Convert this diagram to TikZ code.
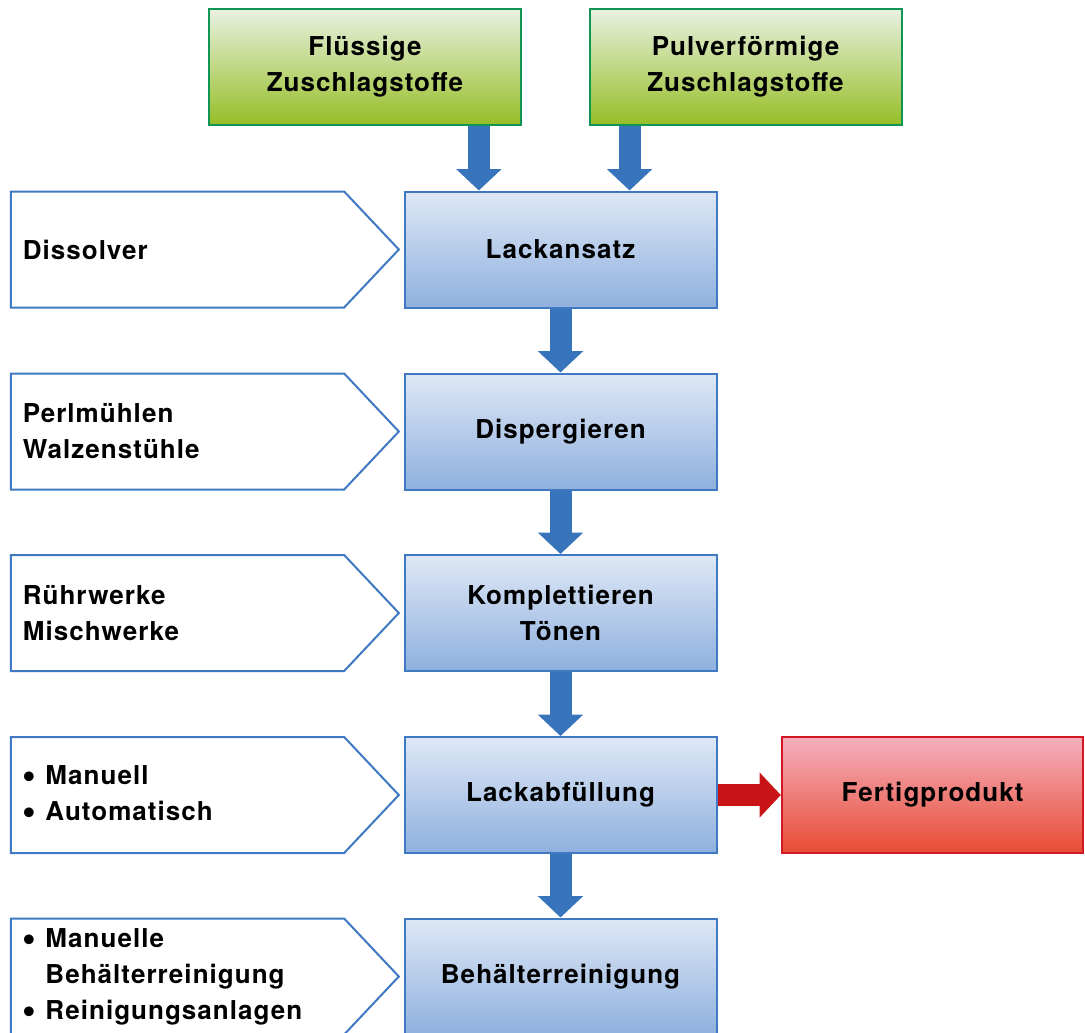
\documentclass[tikz,border=0pt]{standalone}
\usepackage{fontspec}
\setmainfont{TeX Gyre Heros}[LetterSpace=4]
\definecolor{FrameBlue}{RGB}{62, 121, 193}
\definecolor{ArrowBlue}{RGB}{56, 116, 188}
\definecolor{BoxTop}{RGB}{222, 232, 246}
\definecolor{BoxBottom}{RGB}{143, 176, 222}
\definecolor{LeafGreen}{RGB}{16, 150, 84}
\definecolor{GreenTop}{RGB}{233, 241, 226}
\definecolor{GreenBottom}{RGB}{150, 190, 38}
\definecolor{SignalRed}{RGB}{210, 25, 35}
\definecolor{RedTop}{RGB}{245, 175, 190}
\definecolor{RedBottom}{RGB}{232, 76, 52}
\definecolor{ArrowRed}{RGB}{200, 20, 22}
\usetikzlibrary{arrows.meta, positioning, calc}

\newcommand{\toolframe}[1]{%
  \draw[toolline] (#1.north west) -- (#1.north east) -- ([xshift=41pt]#1.east)
    -- (#1.south east) -- (#1.south west) -- cycle;}
\newcommand{\dotitem}{\makebox[17pt][l]{\raisebox{-0.17em}{\scalebox{1.5}{\textbullet}}}}

\begin{document}
\begin{tikzpicture}[x=0.75pt, y=-0.75pt,
    every node/.style={font=\bfseries\fontsize{19.5}{27}\selectfont},
    stepbox/.style={draw=FrameBlue, line width=1.5pt, top color=BoxTop, bottom color=BoxBottom,
        minimum width=234pt, minimum height=87pt, align=center},
    inputbox/.style={draw=LeafGreen, line width=1.5pt, top color=GreenTop, bottom color=GreenBottom,
        minimum width=234pt, minimum height=87pt, align=center},
    outputbox/.style={draw=SignalRed, line width=1.5pt, top color=RedTop, bottom color=RedBottom,
        minimum width=226pt, minimum height=87pt, align=center},
    tool/.style={minimum width=250pt, minimum height=87pt, text width=232pt, align=left,
        inner xsep=9pt, outer sep=0pt},
    toolline/.style={draw=FrameBlue, line width=1.5pt, fill=white},
    flow/.style={draw=ArrowBlue, line width=16.5pt, -{Triangle[width=33pt, length=16pt]}},
    outflow/.style={draw=ArrowRed, line width=17pt, -{Triangle[width=33pt, length=16pt]}}]
    \useasboundingbox (0,0) rectangle (1085,1032);

    % Zuschlagstoffe
    \node[inputbox] (fluessig) at (365,67) {Flüssige\\Zuschlagstoffe};
    \node[inputbox] (pulver) at (745.5,67) {Pulverförmige\\Zuschlagstoffe};

    % Prozessschritte
    \node[stepbox] (ansatz) at (560.5,249.5) {Lackansatz};
    \node[stepbox] (dispergieren) at (560.5,431.5) {Dispergieren};
    \node[stepbox] (komplett) at (560.5,613) {Komplettieren\\Tönen};
    \node[stepbox] (abfuellung) at (560.5,795) {Lackabfüllung};
    \node[stepbox] (reinigung) at (560.5,976.5) {Behälterreinigung};
    \node[outputbox] (fertig) at (932.5,795) {Fertigprodukt};

    % Anlagen
    \node[tool] (dissolver) at (177.5,249.5) {};
    \node[tool] (muehlen) at (177.5,431.5) {};
    \node[tool] (ruehrwerke) at (177.5,613) {};
    \node[tool] (abfueller) at (177.5,795) {};
    \node[tool] (reiniger) at (177.5,976.5) {};
    \toolframe{dissolver}
    \toolframe{muehlen}
    \toolframe{ruehrwerke}
    \toolframe{abfueller}
    \toolframe{reiniger}
    \node[tool] at (dissolver) {Dissolver};
    \node[tool] at (muehlen) {Perlmühlen\\Walzenstühle};
    \node[tool] at (ruehrwerke) {Rührwerke\\Mischwerke};
    \node[tool] at (abfueller) {\dotitem Manuell\\\dotitem Automatisch};
    \node[tool] at (reiniger) {\dotitem Manuelle\\\phantom{\dotitem}Behälterreinigung\\\dotitem Reinigungsanlagen};

    % Pfeile
    \coordinate (inA) at ($(ansatz.north west)!0.24!(ansatz.north east)$);
    \coordinate (inB) at ($(ansatz.north west)!0.72!(ansatz.north east)$);
    \draw[flow] (fluessig.south -| inA) -- (inA);
    \draw[flow] (pulver.south -| inB) -- (inB);
    \draw[flow] (ansatz) -- (dispergieren);
    \draw[flow] (dispergieren) -- (komplett);
    \draw[flow] (komplett) -- (abfuellung);
    \draw[flow] (abfuellung) -- (reinigung);
    \draw[outflow] (abfuellung) -- (fertig);
\end{tikzpicture}
\end{document}
